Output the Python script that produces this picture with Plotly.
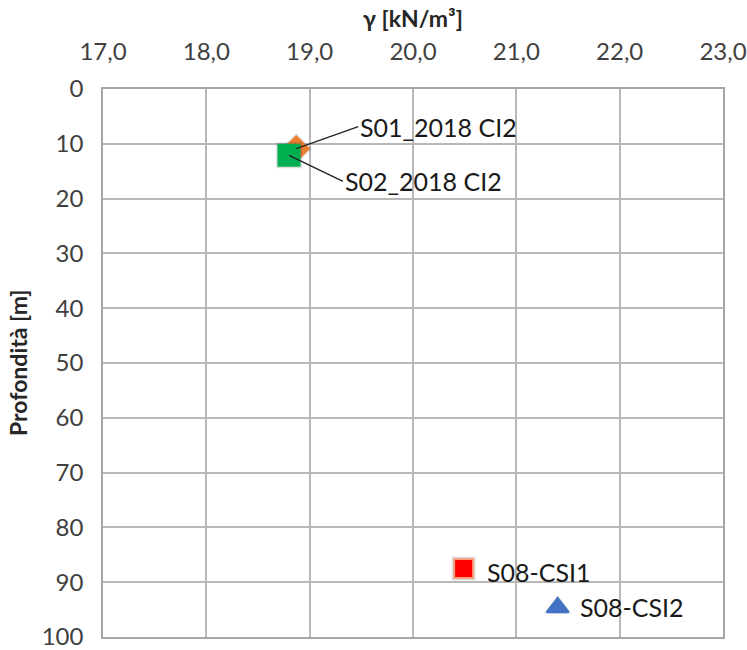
import plotly.graph_objects as go

# Unit weight (kN/m3) vs depth (m) for each sample
samples = ["S01_2018 CI2", "S02_2018 CI2", "S08-CSI1", "S08-CSI2"]
gamma = [18.87, 18.80, 20.49, 21.40]
depth = [10.9, 12.1, 87.5, 94.6]
symbols = ["diamond", "square", "square", "triangle-up"]
colors = ["#ED7D31", "#00B050", "#FF0000", "#4472C4"]
edge_colors = ["#ED7D31", "#00B050", "#F7A07E", "#4472C4"]
sizes = [19, 21, 19, 19]

# label placement (pixel offsets from the marker) and whether a leader line is drawn
label_dx = [62, 54, 21, 20]
label_dy = [-22, 26, 3, 0]
leader = [True, True, False, False]

x_ticks = [17, 18, 19, 20, 21, 22, 23]
y_ticks = list(range(0, 101, 10))

font_family = "Lato, 'Liberation Sans', sans-serif"

fig = go.Figure()

for name, gx, d, sym, c, ec, s in zip(samples, gamma, depth, symbols, colors, edge_colors, sizes):
    # soft shadow behind each marker
    fig.add_trace(go.Scatter(
        x=[gx], y=[d], mode="markers", hoverinfo="skip", showlegend=False,
        marker=dict(symbol=sym, size=s + 5, color="rgba(0,0,0,0.12)", line=dict(width=0)),
    ))
    fig.add_trace(go.Scatter(
        x=[gx], y=[d], mode="markers", name=name, showlegend=False,
        marker=dict(symbol=sym, size=s, color=c, line=dict(color=ec, width=2)),
    ))

for name, gx, d, dx, dy, ld in zip(samples, gamma, depth, label_dx, label_dy, leader):
    if ld:
        fig.add_annotation(
            x=gx, y=d, text=name, showarrow=True, arrowhead=0, arrowwidth=1.3,
            arrowcolor="#222222", ax=dx, ay=dy, xanchor="left", yanchor="middle",
            font=dict(family=font_family, size=25, color="#1a1a1a"),
        )
    else:
        fig.add_annotation(
            x=gx, y=d, text=name, showarrow=False, xanchor="left", yanchor="middle",
            xshift=dx, yshift=-dy,
            font=dict(family=font_family, size=25, color="#1a1a1a"),
        )

# axis titles
fig.add_annotation(
    x=0.5, y=1, xref="paper", yref="paper", text="<b>γ [kN/m³]</b>", showarrow=False,
    xanchor="center", yanchor="middle", yshift=71,
    font=dict(family=font_family, size=23, color="#262626"),
)
fig.add_annotation(
    x=0, y=0.5, xref="paper", yref="paper", text="<b>Profondità [m]</b>", showarrow=False,
    xanchor="center", yanchor="middle", xshift=-85, textangle=-90,
    font=dict(family=font_family, size=23, color="#262626"),
)

fig.update_layout(
    width=747, height=650,
    margin=dict(l=103, r=24, t=89, b=13),
    paper_bgcolor="white", plot_bgcolor="white",
    separators=",.",
    font=dict(family=font_family, size=24, color="#404040"),
    xaxis=dict(
        side="top", range=[17, 23], tickvals=x_ticks, tickformat=".1f",
        showgrid=True, gridcolor="#b8b8b8", gridwidth=1.5,
        showline=True, linecolor="#a6a6a6", linewidth=1.5, mirror=True,
        zeroline=False, ticks="", ticklabelstandoff=18, automargin=False,
        ticklabeloverflow="allow",
    ),
    yaxis=dict(
        range=[100, 0], tickvals=y_ticks,
        showgrid=True, gridcolor="#b8b8b8", gridwidth=1.5,
        showline=True, linecolor="#a6a6a6", linewidth=1.5, mirror=True,
        zeroline=False, ticks="", ticklabelstandoff=13, automargin=False,
        ticklabeloverflow="allow",
    ),
)

fig.write_html("out.html")
